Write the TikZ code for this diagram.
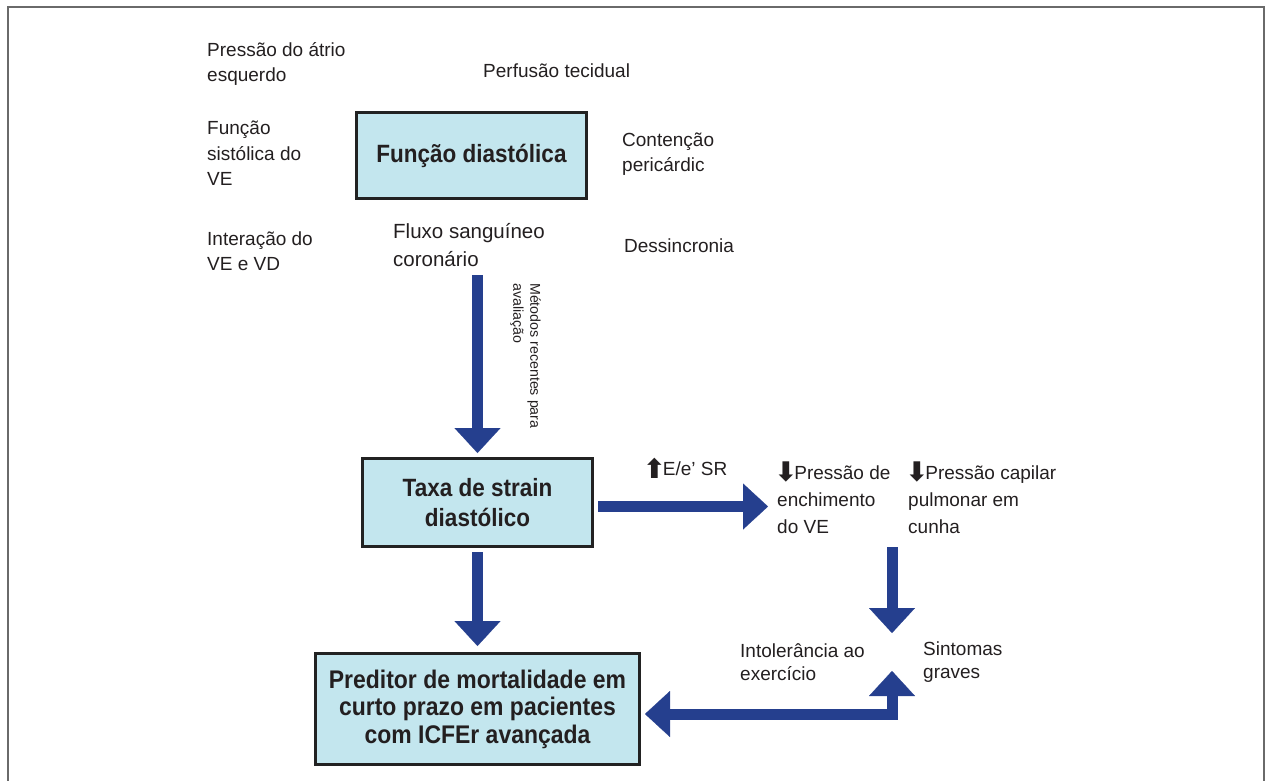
\documentclass[tikz,border=0pt]{standalone}
\usepackage{fontspec}
\setmainfont{Liberation Sans}
\newfontfamily\boxfont{Liberation Sans}[FakeStretch=0.9]
\newfontfamily\symfont{DejaVu Sans}
\usetikzlibrary{arrows.meta}
\definecolor{boxfill}{HTML}{C3E6EE}
\definecolor{boxline}{HTML}{222222}
\definecolor{arrowblue}{HTML}{253F8E}
\definecolor{txt}{HTML}{231F20}
\definecolor{framec}{HTML}{6A6A6A}
\tikzset{
  box/.style={draw=boxline, fill=boxfill, line width=3pt, inner sep=0pt, align=center, text=txt},
  lbl/.style={anchor=base west, inner sep=0pt, align=left, text=txt, font=\fontsize{19}{25}\selectfont},
  bigarrow/.style={draw=arrowblue, line width=11pt, -{Triangle[width=46pt,length=25pt,line width=0.1pt]}},
  dblarrow/.style={draw=arrowblue, line width=11pt, {Triangle[width=46pt,length=25pt,line width=0.1pt]}-{Triangle[width=46pt,length=25pt,line width=0.1pt]}},
}
\newcommand{\uparr}{\kern-2pt\raisebox{-3pt}{\fontsize{27}{27}\symfont\bfseries ⬆}\kern-3pt}
\newcommand{\dnarr}{\kern-2.5pt\raisebox{-2pt}{\fontsize{27}{27}\symfont\bfseries ⬇}\kern-3pt}
\begin{document}
\begin{tikzpicture}[x=1pt,y=-1pt]
\useasboundingbox (0,0) rectangle (1269,780);
% frame
\draw[framec, line width=2pt] (8,790) -- (8,7) -- (1264,7) -- (1264,790);
% boxes
\node[box, minimum width=230pt, minimum height=86pt, font=\boxfont\bfseries\fontsize{25}{30}\selectfont] (box1) at (471.5,155.5) {Função diastólica};
\node[box, minimum width=230pt, minimum height=88pt, font=\boxfont\bfseries\fontsize{25}{30}\selectfont] (box2) at (477.5,502.5) {Taxa de strain\\diastólico};
\node[box, minimum width=324pt, minimum height=111pt, font=\boxfont\bfseries\fontsize{25.5}{27.5}\selectfont] (box3) at (477.5,709) {Preditor de mortalidade em\\curto prazo em pacientes\\com ICFEr avançada};
% labels (base anchor = baseline of last line)
\node[lbl] (patrio) at (207,81) {Pressão do átrio\\esquerdo};
\node[lbl, font=\fontsize{19}{25.5}\selectfont] (fsist) at (207,185.5) {Função\\sistólica do\\VE};
\node[lbl] (interac) at (207,270) {Interação do\\VE e VD};
\node[lbl] (perf) at (483,77) {Perfusão tecidual};
\node[lbl] (cont) at (622,171.5) {Contenção\\pericárdic};
\node[lbl, font=\fontsize{20.5}{28.5}\selectfont] (fluxo) at (393,266.5) {Fluxo sanguíneo\\coronário};
\node[lbl] (dess) at (624,252.5) {Dessincronia};
\node[rotate=-90, anchor=north west, inner sep=0pt, align=left, text=txt, font=\fontsize{14.2}{17}\selectfont] (metodos) at (541,283) {Métodos recentes para\\avaliação};
\node[lbl] (ee) at (645,475) {\uparr E/e’ SR};
\node[lbl, font=\fontsize{19}{27}\selectfont] (penc) at (777,533) {\dnarr Pressão de\\enchimento\\do VE};
\node[lbl, font=\fontsize{19}{27}\selectfont] (pcap) at (908,533) {\dnarr Pressão capilar\\pulmonar em\\cunha};
\node[lbl, font=\fontsize{19}{23.5}\selectfont] (intol) at (740,680.5) {Intolerância ao\\exercício};
\node[lbl, font=\fontsize{19}{23}\selectfont] (sint) at (923,678) {Sintomas\\graves};
% connectors
\coordinate (a1s) at (477.5,275);
\coordinate (a3e) at (768,506.5);
\coordinate (a4s) at (892,547);
\coordinate (a4e) at (892,633);
\coordinate (a5s) at (892,671);
\coordinate (a5m) at (892,714);
\draw[bigarrow, shorten >=4pt] (a1s) -- (box2.north);
\draw[bigarrow, shorten <=4pt, shorten >=6pt] (box2.south) -- (box3.north);
\draw[bigarrow, shorten <=4pt] (box2.east |- a3e) -- (a3e);
\draw[bigarrow] (a4s) -- (a4e);
\draw[dblarrow, shorten >=4pt] (a5s) -- (a5m) -- (box3.east |- a5m);
\end{tikzpicture}
\end{document}
